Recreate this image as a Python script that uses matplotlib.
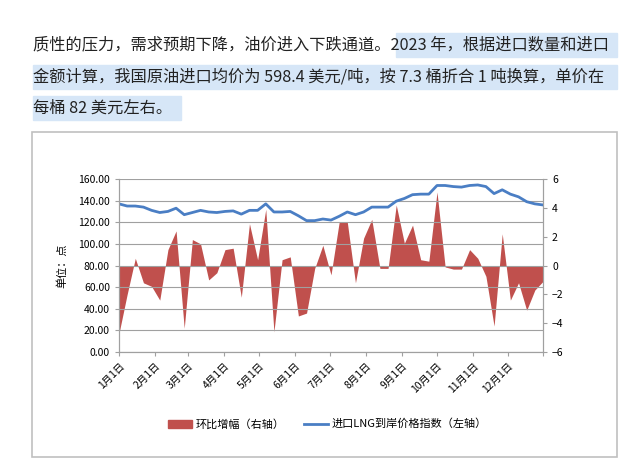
import numpy as np
import matplotlib.pyplot as plt
from matplotlib.patches import Rectangle

plt.rcParams['font.family'] = ['Noto Sans CJK SC', 'DejaVu Sans']

# weekly values, day offsets from Jan 1
week_day = np.arange(53) * 7
mom_change = [-4.7, -2.0, 0.5, -1.2, -1.45, -2.4, 1.1, 2.4, -4.35, 1.8, 1.5, -1.0, -0.5,
              1.1, 1.2, -2.2, 2.9, 0.4, 3.9, -4.6, 0.4, 0.6, -3.5, -3.3, -0.2, 1.4,
              -0.65, 3.0, 3.0, -1.2, 1.9, 3.2, -0.2, -0.2, 4.2, 1.55, 2.8, 0.4, 0.3,
              5.1, -0.1, -0.25, -0.25, 1.1, 0.5, -0.75, -4.2, 2.2, -2.4, -1.2, -3.1,
              -1.7, -1.1]
lng_index = [137, 135, 135, 134, 131, 129, 130, 133, 127, 129, 131, 129.5, 129,
             130, 130.5, 127.5, 131, 131, 137, 129.5, 129.5, 130, 126, 121.5, 121.5,
             123, 122, 125.5, 129.5, 127, 129.5, 134, 134, 134, 139.5, 142, 145.5,
             146, 146, 154, 154, 153, 152.5, 154, 154.5, 153, 146.5, 150, 146,
             143.5, 139, 137, 136]
month_days = [0, 31, 59, 90, 120, 151, 181, 212, 243, 273, 304, 334]
month_labels = [f"{m}月1日" for m in range(1, 13)]

text_lines = ["质性的压力，需求预期下降，油价进入下跌通道。2023 年，根据进口数量和进口",
              "金额计算，我国原油进口均价为 598.4 美元/吨，按 7.3 桶折合 1 吨换算，单价在",
              "每桶 82 美元左右。"]

W, H = 636, 463
fig = plt.figure(figsize=(W / 100, H / 100), dpi=100)

def px(x0, y0, w, h):
    return [x0 / W, 1 - (y0 + h) / H, w / W, h / H]

# highlighted text background
for x0, y0, w in [(396, 33, 221), (33, 65, 584), (33, 96, 148)]:
    fig.patches.append(Rectangle((x0 / W, 1 - (y0 + 24) / H), w / W, 24 / H,
                                 transform=fig.transFigure, color='#d6e6f7', zorder=0))
for i, t in enumerate(text_lines):
    fig.text(33 / W, 1 - (45 + 31.5 * i) / H, t, fontsize=11.7, va='center',
             ha='left', color='#222222')

# chart border
fig.patches.append(Rectangle((32 / W, 1 - 457 / H), 585 / W, 325 / H,
                             transform=fig.transFigure, fill=False,
                             edgecolor='#c0c0c0', lw=1.2))

ax2 = fig.add_axes(px(119, 179, 424, 173))
ax = ax2.twinx()
ax2.yaxis.tick_left()
ax.yaxis.tick_right()
ax2.set_zorder(1)
ax2.patch.set_visible(False)

# left axis: line; right axis: area
ax2.plot(week_day, lng_index, color='#4a7ec4', lw=2)
ax2.set_ylim(0, 160)
ax2.set_yticks(np.arange(0, 161, 20))
ax2.set_yticklabels([f"{v:.2f}" for v in np.arange(0, 161, 20)], fontsize=7.5)
ax2.set_ylabel("单位：点", fontsize=8, labelpad=8)

ax.fill_between(week_day, 0, mom_change, color='#c0504d', lw=0)
ax.set_ylim(-6, 6)
ax.set_yticks(range(-6, 7, 2))
ax.tick_params(axis='y', labelsize=7.5)
ax.set_xlim(0, 364)

ax2.set_xlim(0, 364)
ax2.set_xticks(month_days + [364])
ax2.set_xticklabels(month_labels + [''], rotation=45, ha='right',
                    rotation_mode='anchor', fontsize=7.5)
ax2.grid(axis='y', color='#a0a0a0', lw=0.8)
ax2.set_axisbelow(True)
for a in (ax, ax2):
    for s in a.spines.values():
        s.set_color('#a0a0a0')
    a.spines['top'].set_visible(False)
    a.tick_params(length=3, color='#a0a0a0')
ax.grid(False)

# legend
fig.patches.append(Rectangle((168 / W, 1 - 428 / H), 24 / W, 8 / H,
                             transform=fig.transFigure, color='#c0504d'))
fig.text(196 / W, 1 - 424 / H, "环比增幅（右轴）", fontsize=8, va='center')
fig.lines.append(plt.Line2D([304 / W, 328 / W], [1 - 424 / H] * 2,
                            transform=fig.transFigure, color='#4a7ec4', lw=2))
fig.text(332 / W, 1 - 424 / H, "进口LNG到岸价格指数（左轴）", fontsize=8, va='center')

fig.savefig("out.png", dpi=100)
